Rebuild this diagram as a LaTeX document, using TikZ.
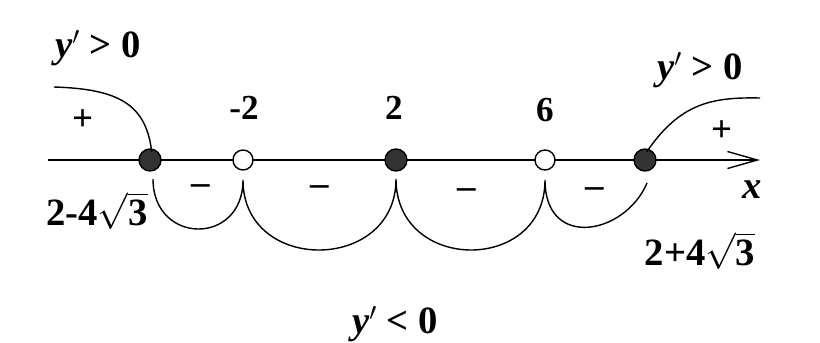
\documentclass[tikz,border=0pt]{standalone}
\usepackage{fontspec}
\setmainfont{Liberation Serif}
\usetikzlibrary{arrows.meta,positioning}

\begin{document}
\begin{tikzpicture}[x=0.02cm,y=-0.02cm,line width=0.8pt,
  full/.style={circle,draw=black,fill=black!80,minimum size=0.44cm,inner sep=0pt},
  hole/.style={circle,draw=black,fill=white,minimum size=0.4cm,inner sep=0pt},
  num/.style={font=\fontsize{20}{24}\selectfont\bfseries,inner sep=0pt},
  big/.style={font=\fontsize{22}{26}\selectfont\bfseries,inner sep=0pt},
  sgn/.style={font=\fontsize{21}{24}\selectfont\bfseries,inner sep=0pt},
  arr/.style={-{Straight Barb[length=6mm,width=3.4mm,line width=0.8pt]}}]
\useasboundingbox (0,0) rectangle (820,342);
% number line
\coordinate (o) at (48,160);
\coordinate (e) at (760,160);
\draw[arr] (o) -- (e);
\node[full] (a) at (150,160) {};
\node[hole] (b) at (243,160) {};
\node[full] (c) at (396,160) {};
\node[hole] (d) at (545,160) {};
\node[full] (f) at (645,160) {};
\node[big] (xl) at (752,190) {\itshape x};
% values
\node[num] (vb) at (244,108) {-2};
\node[num] (vc) at (394,108) {2};
\node[num] (vd) at (545,110) {6};
\node[big] (va) at (97,211) {2-4$\sqrt{\hbox{\bfseries 3}}$};
\node[big] (vf) at (700,251) {2+4$\sqrt{\hbox{\bfseries 3}}$};
% sign curves
\coordinate (l0) at (54,87);
\coordinate (r0) at (760,98);
\coordinate (a1) at ([xshift=1pt,yshift=-2pt]a.north);
\coordinate (f1) at ([xshift=1pt,yshift=-2pt]f.north);
\draw (l0) .. controls (120,89) and (146,105) .. (a1);
\draw (f1) .. controls (680,103) and (712,97) .. (r0);
\coordinate (a2) at (153,179);
\coordinate (b2) at (243,180);
\coordinate (c2) at (396,179);
\coordinate (d2) at (545,180);
\coordinate (f2) at (647,183);
\draw (a2) .. controls +(0,66) and +(0,66) .. (b2)
  .. controls +(0,94) and +(0,94) .. (c2)
  .. controls +(0,94) and +(0,94) .. (d2)
  .. controls +(0,70) and +(-22,52) .. (f2);
\node[sgn] (s1) at (83,120) {+};
\node[sgn] (s2) at (722,131) {+};
\node[sgn] (m1) at (201,190) {–};
\node[sgn] (m2) at (320,191) {–};
\node[sgn] (m3) at (467,194) {–};
\node[sgn] (m4) at (595,193) {–};
% derivative signs
\node[big] (pl) at (98,48) {\itshape y$\mathbf{'}$\upshape\ > 0};
\node[big] (pr) at (700,70) {\itshape y$\mathbf{'}$\upshape\ > 0};
\node[big] (ng) at (395,324) {\itshape y$\mathbf{'}$\upshape\ < 0};
\end{tikzpicture}
\end{document}
